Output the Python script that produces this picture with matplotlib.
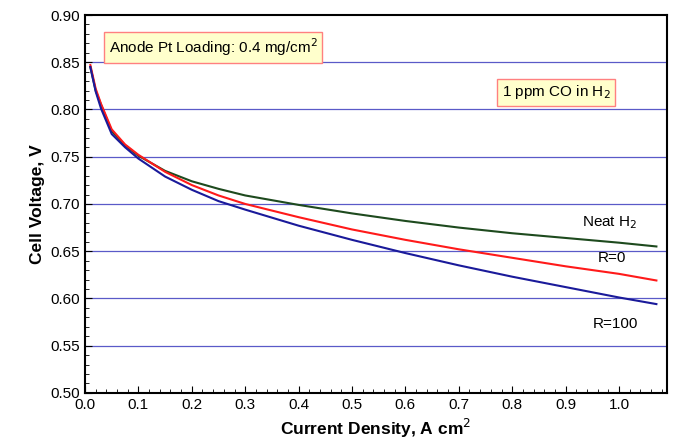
import numpy as np
import matplotlib.pyplot as plt
from matplotlib.ticker import MultipleLocator

plt.rcParams['font.family'] = ['Liberation Sans', 'DejaVu Sans']

# --- Datos ---
current = [0.01, 0.02, 0.03, 0.05, 0.075, 0.1, 0.15, 0.2, 0.25, 0.3, 0.4, 0.5, 0.6, 0.7, 0.8, 0.9, 1.0, 1.07]
neat_h2 = [0.845, 0.820, 0.805, 0.777, 0.762, 0.751, 0.735, 0.724, 0.716, 0.709, 0.699, 0.690, 0.682, 0.675, 0.669, 0.664, 0.659, 0.655]
r0 = [0.847, 0.822, 0.806, 0.779, 0.763, 0.752, 0.734, 0.720, 0.709, 0.700, 0.686, 0.673, 0.662, 0.652, 0.643, 0.634, 0.626, 0.619]
r100 = [0.845, 0.819, 0.801, 0.774, 0.760, 0.748, 0.729, 0.715, 0.703, 0.694, 0.677, 0.662, 0.648, 0.635, 0.623, 0.612, 0.601, 0.594]

fig = plt.figure(figsize=(6.8, 4.48), dpi=100)
ax = fig.add_axes([0.125, 0.123, 0.856, 0.8435])

for yv in np.arange(0.55, 0.86, 0.05):
    ax.axhline(yv, color='#5a5ac8', lw=0.9, zorder=1)

ax.plot(current, neat_h2, color='#1e4a1e', lw=1.5, zorder=3)
ax.plot(current, r0, color='#ff1a1a', lw=1.5, zorder=3)
ax.plot(current, r100, color='#1a1a9a', lw=1.5, zorder=3)

ax.set_xlim(0, 1.09)
ax.set_ylim(0.50, 0.90)
ax.xaxis.set_major_locator(MultipleLocator(0.1))
ax.xaxis.set_minor_locator(MultipleLocator(0.02))
ax.yaxis.set_major_locator(MultipleLocator(0.05))
ax.yaxis.set_minor_locator(MultipleLocator(0.01))
ax.xaxis.set_major_formatter(plt.FormatStrFormatter('%.1f'))
ax.yaxis.set_major_formatter(plt.FormatStrFormatter('%.2f'))
ax.tick_params(which='both', direction='in', labelsize=11, top=False, right=False)
ax.tick_params(which='major', length=5)
ax.tick_params(which='minor', length=3)
for s in ax.spines.values():
    s.set_linewidth(1.5)

ax.set_xlabel('Current Density, A cm$^2$', fontsize=12.5, fontweight='bold')
ax.set_ylabel('Cell Voltage, V', fontsize=12.5, fontweight='bold')

box = dict(boxstyle='square,pad=0.3', facecolor='#ffffcc', edgecolor='#ff8080', lw=1)
ax.text(0.045, 0.866, 'Anode Pt Loading: 0.4 mg/cm$^2$', fontsize=11, bbox=box, va='center')
ax.text(0.78, 0.818, '1 ppm CO in H$_2$', fontsize=11, bbox=box, va='center')

ax.text(0.93, 0.680, 'Neat H$_2$', fontsize=11, va='center')
ax.text(0.96, 0.643, 'R=0', fontsize=11, va='center')
ax.text(0.95, 0.573, 'R=100', fontsize=11, va='center')

fig.savefig('out.png', dpi=100)
